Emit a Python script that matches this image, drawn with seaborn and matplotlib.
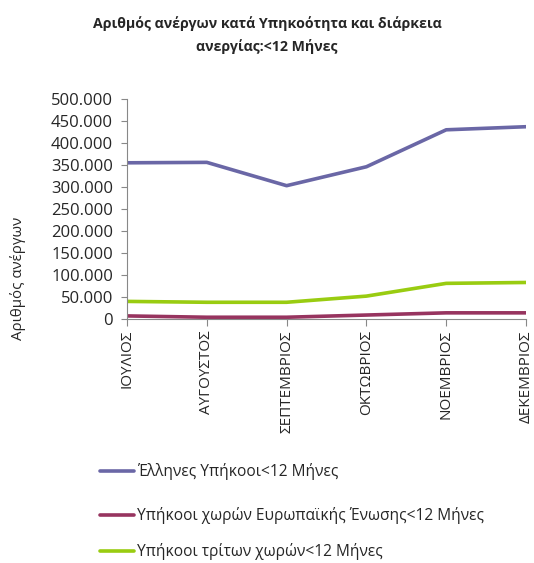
import matplotlib
matplotlib.use("Agg")
import matplotlib.pyplot as plt
import seaborn as sns
import pandas as pd
from matplotlib.ticker import FuncFormatter

months = ["ΙΟΥΛΙΟΣ", "ΑΥΓΟΥΣΤΟΣ", "ΣΕΠΤΕΜΒΡΙΟΣ", "ΟΚΤΩΒΡΙΟΣ", "ΝΟΕΜΒΡΙΟΣ", "ΔΕΚΕΜΒΡΙΟΣ"]
series_names = ["Έλληνες Υπήκοοι<12 Μήνες",
                "Υπήκοοι χωρών Ευρωπαϊκής Ένωσης<12 Μήνες",
                "Υπήκοοι τρίτων χωρών<12 Μήνες"]
greek = [355000, 356000, 303000, 346000, 430000, 437000]
eu = [7000, 4000, 4000, 9000, 14000, 14000]
third = [40000, 38000, 38000, 52000, 81000, 83000]
colors = ["#6A67A6", "#97345F", "#99CC11"]

rows = []
for name, vals in zip(series_names, [greek, eu, third]):
    for i, (m, v) in enumerate(zip(months, vals)):
        rows.append({"pos": i, "month": m, "series": name, "value": v})
df = pd.DataFrame(rows)

sns.set_theme(style="white")
plt.rcParams['font.family'] = ['Open Sans', 'DejaVu Sans']

fig = plt.figure(figsize=(5.34, 5.63), dpi=100)
W, H = 534, 563
ax = fig.add_axes([127 / W, 1 - 319 / H, (526 - 127) / W, (319 - 99) / H])

sns.lineplot(data=df, x="pos", y="value", hue="series", hue_order=series_names,
             palette=colors, linewidth=2.6, ax=ax, legend=False)

ax.set_xlim(0, 5)
ax.set_ylim(0, 500000)
ax.set_yticks(range(0, 500001, 50000))
ax.yaxis.set_major_formatter(FuncFormatter(lambda v, p: f"{int(v):,}".replace(",", ".")))
ax.set_xticks(range(len(months)))
ax.set_xticklabels(months, rotation=90, fontsize=11)
ax.tick_params(axis="y", labelsize=12, length=4, width=0.8, color="#888888", direction="out", pad=6, left=True)
ax.tick_params(axis="x", length=5, width=0.8, color="#888888", direction="out", pad=3, bottom=True)
for s in ["top", "right"]:
    ax.spines[s].set_visible(False)
for s in ["left", "bottom"]:
    ax.spines[s].set_color("#888888")
    ax.spines[s].set_linewidth(0.8)
ax.set_xlabel("")
ax.set_ylabel("")

fig.text(18 / W, 1 - 278 / H, "Αριθμός ανέργων", rotation=90, ha="center", va="center", fontsize=10.8)
fig.text(267 / W, 1 - 35 / H, "Αριθμός ανέργων κατά Υπηκοότητα και διάρκεια\nανεργίας:<12 Μήνες",
         ha="center", va="center", fontsize=10.2, fontweight="bold", linespacing=1.6)

legend_y = [471, 515, 551]
for name, c, y in zip(series_names, colors, legend_y):
    fy = 1 - y / H
    fig.add_artist(plt.Line2D([100 / W, 134 / W], [fy, fy], color=c, linewidth=2.6, transform=fig.transFigure))
    fig.text(137 / W, fy, name, ha="left", va="center", fontsize=11.2)

fig.savefig("out.png", dpi=100, facecolor="white")
